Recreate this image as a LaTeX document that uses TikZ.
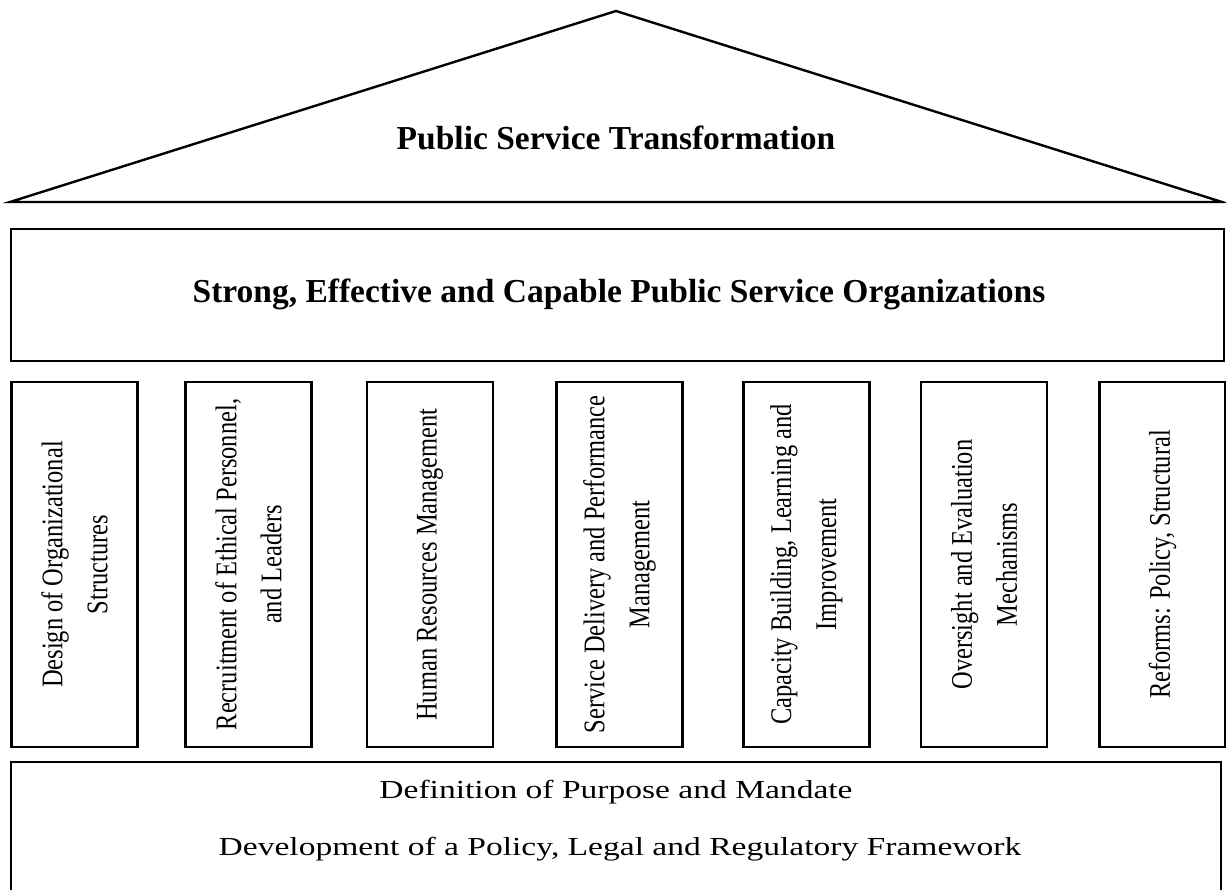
\documentclass[tikz,border=0pt]{standalone}
\usepackage{fontspec}
\setmainfont{Liberation Serif}
\newfontfamily\pillarfont[FakeStretch=0.815]{Liberation Serif}
\newfontfamily\basefont[FakeStretch=1.29]{Liberation Serif}
\begin{document}
\begin{tikzpicture}[x=1pt,y=-1pt,
  outline/.style={draw=black,line width=2.6pt,line join=miter},
  pillar/.style={outline,rotate=90,minimum width=365pt,minimum height=126pt,
    inner sep=0pt,align=center,font=\pillarfont\fontsize{30}{45}\selectfont},
  headline/.style={font=\bfseries\fontsize{33.5}{40}\selectfont,anchor=base},
  baseline text/.style={font=\basefont\fontsize{26}{32}\selectfont,anchor=base}]
\clip (0,0) rectangle (1226,890);
\fill[white] (0,0) rectangle (1226,890);

% roof
\coordinate (apex) at (616,11);
\coordinate (eaveL) at (10,202);
\coordinate (eaveR) at (1222,202);
\draw[line width=2.4pt,line join=miter] (eaveL) -- (apex) -- (eaveR) -- cycle;
\node[headline] (roof) at (616,150) {Public Service Transformation};

% entablature
\draw[outline] (11,229) rectangle (1224,361);
\node[headline] (org) at (619,303) {Strong, Effective and Capable Public Service Organizations};

% pillars
\node[pillar] (p1) at (74.5,564.5) {Design of Organizational\\Structures};
\node[pillar] (p2) at (248.5,564.5) {Recruitment of Ethical Personnel,\\and Leaders};
\node[pillar] (p3) at (430,564.5) {Human Resources Management};
\node[pillar] (p4) at (619.5,564.5) {Service Delivery and Performance\\Management};
\node[pillar] (p5) at (806.5,564.5) {Capacity Building, Learning and\\Improvement};
\node[pillar] (p6) at (984,564.5) {Oversight and Evaluation\\Mechanisms};
\node[pillar] (p7) at (1162.5,564.5) {Reforms: Policy, Structural};

% foundation
\draw[outline] (11,940) -- (11,762) -- (1221,762) -- (1221,940);
\node[baseline text] (mandate) at (616,798) {Definition of Purpose and Mandate};
\node[baseline text] (framework) at (620,855) {Development of a Policy, Legal and Regulatory Framework};
\end{tikzpicture}
\end{document}
